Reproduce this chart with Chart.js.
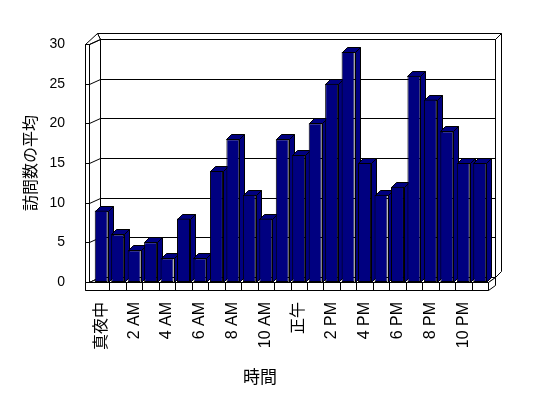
<!DOCTYPE html>
<html>
<head>
<meta charset="utf-8">
<script src="https://cdn.jsdelivr.net/npm/chart.js"></script>
<style>
  html, body { margin: 0; padding: 0; background: #fff; }
</style>
</head>
<body>
<canvas id="chart" width="548" height="398"></canvas>
<script>
// hours of the day (category axis), labels shown every 2 hours
const hours = [
  "真夜中", "1 AM", "2 AM", "3 AM", "4 AM", "5 AM", "6 AM", "7 AM", "8 AM", "9 AM", "10 AM", "11 AM",
  "正午", "1 PM", "2 PM", "3 PM", "4 PM", "5 PM", "6 PM", "7 PM", "8 PM", "9 PM", "10 PM", "11 PM"
];
// average visits per hour
const visits = [9, 6, 4, 5, 3, 8, 3, 14, 18, 11, 8, 18, 16, 20, 25, 29, 15, 11, 12, 26, 23, 19, 15, 15];

const yMax = 30;
const yStep = 5;

const latin = "'Liberation Sans', 'Noto Sans CJK JP', sans-serif";
const cjk = "'Noto Sans CJK JP', sans-serif";

// fake 3D: walls, floor and bar depth faces
const BAR_DEPTH = 5;
const box3d = {
  id: 'box3d',
  beforeDatasetsDraw(chart) {
    const { ctx, chartArea: a, scales: { x, y } } = chart;
    const p = v => Math.round(v) + 0.5;
    const line = (x1, y1, x2, y2) => {
      ctx.beginPath(); ctx.moveTo(p(x1), p(y1)); ctx.lineTo(p(x2), p(y2)); ctx.stroke();
    };
    const poly = (pts) => {
      ctx.beginPath();
      pts.forEach(([px, py], i) => i ? ctx.lineTo(p(px), p(py)) : ctx.moveTo(p(px), p(py)));
      ctx.closePath(); ctx.fill(); ctx.stroke();
    };
    const y0 = y.getPixelForValue(0), yT = y.getPixelForValue(yMax);
    const fo = a.left - 8, fi = a.left - 4;   // left wall front (outer / inner)
    const bl = a.left + 7, br = a.right + 7;  // back wall
    const dy = -5;                            // back plane shift
    const th = 6;                             // wall thickness

    ctx.save();
    ctx.strokeStyle = '#000';
    ctx.lineWidth = 1;
    ctx.fillStyle = '#fff';

    // back wall slab
    poly([[bl - 3, yT + dy - th], [br + th, yT + dy - th], [br + th, y0 + dy - th], [br, y0 + dy], [br, yT + dy], [bl, yT + dy]]);
    line(br, yT + dy, br + th, yT + dy - th);
    poly([[bl, yT + dy], [br, yT + dy], [br, y0 + dy], [bl, y0 + dy]]);

    // left wall slab
    poly([[fo, yT], [bl - 3, yT + dy - th], [bl, yT + dy], [bl, y0 + dy], [fi, y0], [fi, yT]]);
    line(fo, yT, fi, yT);
    line(fi, yT, bl, yT + dy);
    poly([[fo, yT], [fi, yT], [fi, y0 + 8], [fo, y0 + 8]]);

    // gridlines on the back wall + ticks on the left wall
    for (let v = 0; v <= yMax; v += yStep) {
      const yf = y.getPixelForValue(v);
      line(fo, yf, fi, yf);
      line(fi, yf, bl, yf + dy);
      line(bl, yf + dy, br, yf + dy);
    }

    // floor slab
    poly([[fi, y0], [bl, y0 + dy], [br, y0 + dy], [a.right, y0]]);
    poly([[a.right, y0], [br, y0 + dy], [br, y0 + dy + 8], [a.right, y0 + 8]]);
    poly([[fo, y0], [a.right, y0], [a.right, y0 + 8], [fo, y0 + 8]]);
    const half = (x.getPixelForValue(1) - x.getPixelForValue(0)) / 2;
    for (let i = 1; i < hours.length; i++) {
      const bx = x.getPixelForValue(i) - half;
      line(bx, y0, bx, y0 + 8);
    }

    // bar sides and tops
    ctx.fillStyle = '#000080';
    const d = BAR_DEPTH;
    chart.getDatasetMeta(0).data.forEach(bar => {
      const l = bar.x - bar.width / 2, r = bar.x + bar.width / 2;
      poly([[r, bar.y], [r + d, bar.y - d], [r + d, bar.base - d], [r, bar.base]]);
      poly([[l, bar.y], [l + d, bar.y - d], [r + d, bar.y - d], [r, bar.y]]);
    });
    ctx.restore();
  }
};

new Chart(document.getElementById('chart').getContext('2d'), {
  type: 'bar',
  data: {
    labels: hours,
    datasets: [{
      label: '訪問数の平均',
      data: visits,
      backgroundColor: '#000080',
      borderColor: '#000',
      borderWidth: 1,
      borderSkipped: false,
      barPercentage: 0.79,
      categoryPercentage: 1
    }]
  },
  options: {
    responsive: false,
    animation: false,
    devicePixelRatio: 1,
    layout: { padding: { top: 44, right: 28, bottom: 11, left: 0 } },
    plugins: {
      legend: { display: false },
      tooltip: { enabled: false },
      title: {
        display: true,
        position: 'bottom',
        text: '時間',
        color: '#000',
        font: { family: cjk, size: 17, weight: 'normal' },
        padding: { top: 0, bottom: 0 }
      }
    },
    scales: {
      x: {
        grid: { display: false, drawTicks: false },
        border: { display: false },
        ticks: {
          autoSkip: false,
          minRotation: 90,
          maxRotation: 90,
          padding: 20,
          color: '#000',
          font: { family: latin, size: 16 },
          callback: (v, i) => i % 2 === 0 ? hours[i] : ''
        },
        afterFit(s) { s.height = 84.6; }
      },
      y: {
        min: 0,
        max: yMax,
        grid: { display: false, drawTicks: false },
        border: { display: false },
        ticks: {
          stepSize: yStep,
          padding: 28,
          color: '#000',
          font: { family: latin, size: 14 }
        },
        title: {
          display: true,
          text: '訪問数の平均',
          color: '#000',
          font: { family: cjk, size: 16 },
          padding: { top: 20, bottom: 0 }
        },
        afterFit(s) { s.width = 93; }
      },
      y2: {
        position: 'right',
        grid: { display: false, drawTicks: false },
        border: { display: false },
        ticks: { display: false },
        afterFit(s) { s.width = 32; }
      }
    }
  },
  plugins: [box3d]
});
</script>
</body>
</html>
